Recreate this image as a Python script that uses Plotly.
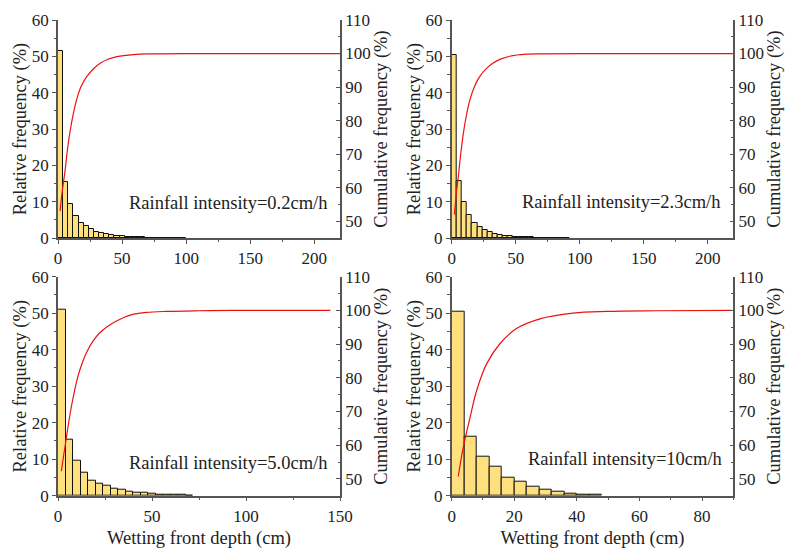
import plotly.graph_objects as go

BIN_WIDTH = 4

# Relative frequency (%) per 4 cm bin, starting at 0 cm
freq_02 = [51.5, 15.4, 9.4, 6.1, 4.1, 3.2, 2.4, 1.7, 1.3, 1.1, 0.8, 0.6, 0.45, 0.35, 0.28,
           0.22, 0.17, 0.13, 0.1, 0.08, 0.06, 0.05, 0.04, 0.03, 0.03]
freq_23 = [50.3, 15.7, 9.8, 6.2, 4.1, 3.0, 2.3, 1.7, 1.2, 0.9, 0.65, 0.45, 0.35, 0.28, 0.22,
           0.17, 0.13, 0.1, 0.08, 0.06, 0.05, 0.04, 0.03]
freq_50 = [50.9, 15.3, 9.7, 6.4, 4.2, 3.2, 2.8, 2.0, 1.6, 1.2, 0.9, 0.7, 0.5, 0.4, 0.28,
           0.2, 0.15, 0.12]
freq_10 = [50.5, 16.1, 10.7, 7.9, 5.0, 3.8, 2.5, 1.55, 1.1, 0.6, 0.35, 0.3]

# Cumulative frequency curves (%)
cum_x_02 = [1.6, 3.5, 5.3, 7.2, 9.2, 11.8, 14.5, 18.0, 22.4, 27.5, 32.9, 39.0, 46.0, 59.0, 72.0, 100.0, 150.0, 220.0]
cum_y_02 = [53.0, 59.5, 64.4, 70.8, 76.3, 81.8, 86.2, 90.2, 93.1, 95.4, 97.1, 98.3, 99.1, 99.7, 99.9, 100.0, 100.0, 100.0]
cum_x_23 = [2.1, 3.6, 5.2, 7.1, 9.1, 11.5, 14.2, 17.8, 22.0, 27.0, 32.4, 38.5, 45.3, 58.3, 72.0, 100.0, 150.0, 220.0]
cum_y_23 = [52.0, 58.2, 63.4, 70.2, 76.2, 81.6, 86.2, 90.2, 93.2, 95.5, 97.2, 98.4, 99.2, 99.8, 99.9, 100.0, 100.0, 100.0]
cum_x_50 = [1.8, 3.1, 4.4, 5.7, 7.1, 8.8, 10.6, 12.7, 15.0, 18.5, 22.1, 26.5, 30.9, 35.0, 39.8, 47.0, 57.4, 75.0, 92.8, 120.0, 144.9]
cum_y_50 = [52.3, 57.3, 62.0, 66.8, 71.4, 76.1, 80.4, 84.1, 87.3, 90.8, 93.3, 95.3, 96.8, 97.9, 98.8, 99.4, 99.7, 99.9, 100.0, 100.0, 100.0]
cum_x_10 = [2.1, 3.7, 5.9, 8.0, 11.2, 15.4, 20.7, 28.2, 38.8, 49.5, 65.4, 89.4]
cum_y_10 = [50.7, 59.4, 68.3, 76.3, 84.2, 90.1, 94.6, 97.5, 99.2, 99.7, 99.9, 100.0]

labels = ["Rainfall intensity=0.2cm/h", "Rainfall intensity=2.3cm/h",
          "Rainfall intensity=5.0cm/h", "Rainfall intensity=10cm/h"]
freqs = [freq_02, freq_23, freq_50, freq_10]
cum_xs = [cum_x_02, cum_x_23, cum_x_50, cum_x_10]
cum_ys = [cum_y_02, cum_y_23, cum_y_50, cum_y_10]
x_ranges = [[0, 220], [0, 220], [0, 150], [0, 90]]
x_dticks = [50, 50, 50, 20]

W, H = 785, 549
# pixel boxes of plot areas: (left, right, top, bottom)
boxes = [(58, 340, 20, 238), (451.7, 733.3, 20, 238),
         (58, 340, 276.7, 495.7), (451.7, 733.3, 276.7, 495.7)]
ann_pos = [(0.965, 0.16), (0.963, 0.166), (0.965, 0.149), (0.967, 0.168)]

FONT = "Liberation Serif"
TXT = "#222222"
AX = "#555555"
BAR = "#FFE07F"

fig = go.Figure()
layout = dict(
    width=W, height=H, margin=dict(l=0, r=0, t=0, b=0, autoexpand=False),
    paper_bgcolor="white", plot_bgcolor="white", showlegend=False,
    font=dict(family=FONT, size=16, color=TXT),
    annotations=[], bargap=0,
)

for i in range(4):
    n = i + 1
    xa = "x" if n == 1 else f"x{n}"
    ya = "y" if n == 1 else f"y{n}"
    ya2 = f"y{n + 4}"
    f = freqs[i]
    centers = [BIN_WIDTH / 2 + BIN_WIDTH * k for k in range(len(f))]
    fig.add_trace(go.Bar(x=centers, y=f, width=BIN_WIDTH, xaxis=xa, yaxis=ya,
                         marker=dict(color=BAR, line=dict(color="#111111", width=1))))
    fig.add_trace(go.Scatter(x=cum_xs[i], y=cum_ys[i], mode="lines", xaxis=xa, yaxis=ya2,
                             line=dict(color="#EE1111", width=1.2, shape="spline")))
    l, r, t, b = boxes[i]
    xdom = [l / W, r / W]
    ydom = [(H - b) / H, (H - t) / H]
    bottom_row = i >= 2
    layout[f"xaxis{'' if n == 1 else n}"] = dict(
        domain=xdom, range=x_ranges[i], anchor=ya, dtick=x_dticks[i], tick0=0,
        automargin=False,
        showline=True, linecolor=AX, linewidth=1.5, ticks="outside", ticklen=4,
        tickcolor=AX, tickwidth=1.2, showgrid=False, zeroline=False,
        minor=dict(dtick=x_dticks[i] / 2, ticks="outside", ticklen=2.5, tickcolor=AX),
        tickfont=dict(family=FONT, size=17, color=TXT),
        title=dict(text="Wetting front depth (cm)" if bottom_row else "",
                   font=dict(family=FONT, size=18.5, color=TXT), standoff=10),
    )
    layout[f"yaxis{'' if n == 1 else n}"] = dict(
        domain=ydom, range=[0, 60], anchor=xa, dtick=10, automargin=False,
        showline=True, linecolor=AX, linewidth=1.5, ticks="outside", ticklen=4,
        tickcolor=AX, tickwidth=1.2, showgrid=False, zeroline=False,
        minor=dict(dtick=5, ticks="outside", ticklen=2.5, tickcolor=AX),
        tickfont=dict(family=FONT, size=17, color=TXT),
        title=dict(text="Relative frequency (%)",
                   font=dict(family=FONT, size=18.5, color=TXT), standoff=0),
    )
    layout[f"yaxis{n + 4}"] = dict(
        overlaying=ya, side="right", anchor=xa, range=[45, 110], dtick=10, tick0=0,
        automargin=False,
        showline=True, linecolor=AX, linewidth=1.5, ticks="inside", ticklen=4,
        tickcolor=AX, tickwidth=1.2, showgrid=False, zeroline=False,
        minor=dict(dtick=5, ticks="inside", ticklen=2.5, tickcolor=AX),
        tickfont=dict(family=FONT, size=17, color=TXT),
        title=dict(text="Cumulative frequency (%)",
                   font=dict(family=FONT, size=18.5, color=TXT), standoff=4),
    )
    ax_, ay_ = ann_pos[i]
    layout["annotations"].append(dict(
        text=labels[i], xref=f"{xa} domain", yref=f"{ya} domain", x=ax_, y=ay_,
        xanchor="right", yanchor="middle", showarrow=False,
        font=dict(family=FONT, size=18.5, color=TXT)))

fig.update_layout(**layout)
fig.write_html("out.html", config={"displayModeBar": False},
               post_script="document.body.style.margin='0';document.body.style.overflow='hidden';")
